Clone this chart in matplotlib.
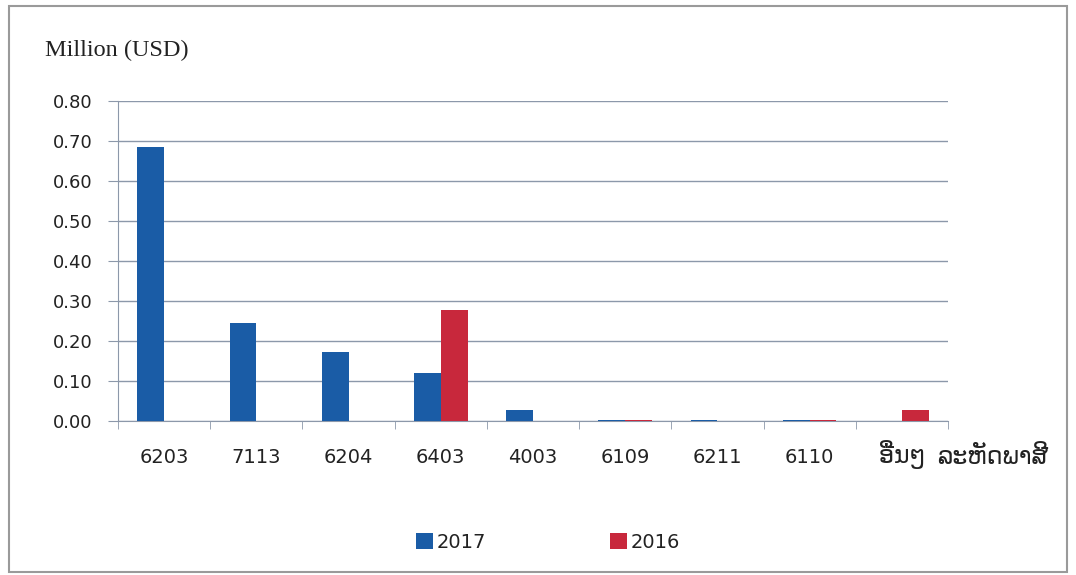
import matplotlib
matplotlib.use("Agg")
import matplotlib.pyplot as plt
import numpy as np
from matplotlib.patches import Rectangle

categories = ["6203", "7113", "6204", "6403", "4003", "6109", "6211", "6110", "ອື່ນໆ"]
values_2017 = [0.685, 0.245, 0.172, 0.120, 0.027, 0.003, 0.003, 0.003, 0.0]
values_2016 = [0.0, 0.0, 0.0, 0.278, 0.0, 0.002, 0.0, 0.002, 0.027]
series_labels = ["2017", "2016"]
yticks = [0.0, 0.1, 0.2, 0.3, 0.4, 0.5, 0.6, 0.7, 0.8]

blue = "#1a5ca6"
red = "#c8283c"
grid_c = "#8c98aa"

fig = plt.figure(figsize=(10.76, 5.75), dpi=100)
ax = fig.add_axes([0.1097, 0.2678, 0.7713, 0.5565])

x = np.arange(len(categories))
w = 0.29
b1 = ax.bar(x - w/2, values_2017, w, color=blue, label=series_labels[0], zorder=3)
b2 = ax.bar(x + w/2, values_2016, w, color=red, label=series_labels[1], zorder=3)

ax.set_xlim(-0.5, len(categories) - 0.5)
ax.set_ylim(0, 0.8)
ax.set_yticks(yticks)
ax.set_yticklabels([f"{v:.2f}" for v in yticks], fontsize=13, family="DejaVu Sans", color="#222222")
ax.yaxis.grid(True, color=grid_c, linewidth=1.0, zorder=0)
ax.tick_params(axis="y", length=7.2, color=grid_c, pad=11)

ax.set_xticks(x)
ax.set_xticklabels(categories, fontsize=14, family="DejaVu Sans", color="#222222")
ax.tick_params(axis="x", length=0, pad=30)
for lbl in ax.get_xticklabels():
    lbl.set_va("baseline")
ax.get_xticklabels()[-1].set_fontsize(17)
# category boundary ticks
ax.set_xticks(np.arange(-0.5, len(categories)), minor=True)
ax.tick_params(axis="x", which="minor", length=6, color=grid_c)

for s in ["top", "right"]:
    ax.spines[s].set_visible(False)
ax.spines["left"].set_color(grid_c)
ax.spines["bottom"].set_color(grid_c)

fig.text(0.042, 0.912, "Million (USD)", fontsize=17.5, family="Liberation Serif", va="center", color="#222222")
fig.text(0.871, 1 - 464/575, "ລະຫັດພາສີ", fontsize=17, family="DejaVu Sans", va="baseline", color="#222222")

leg = fig.legend(handles=[b1, b2], labels=series_labels, loc="center left",
                 bbox_to_anchor=(416/1076, 0.057), borderaxespad=0, borderpad=0,
                 ncol=2, frameon=False, handlelength=0.85, handleheight=0.85,
                 columnspacing=6.4, handletextpad=0.2,
                 prop={"family": "DejaVu Sans", "size": 14})
for t in leg.get_texts():
    t.set_color("#222222")

fig.patches.append(Rectangle((0.008, 0.005), 0.984, 0.985, transform=fig.transFigure,
                             fill=False, edgecolor="#9a9a9a", linewidth=1.5))

fig.savefig("out.png", dpi=100)
